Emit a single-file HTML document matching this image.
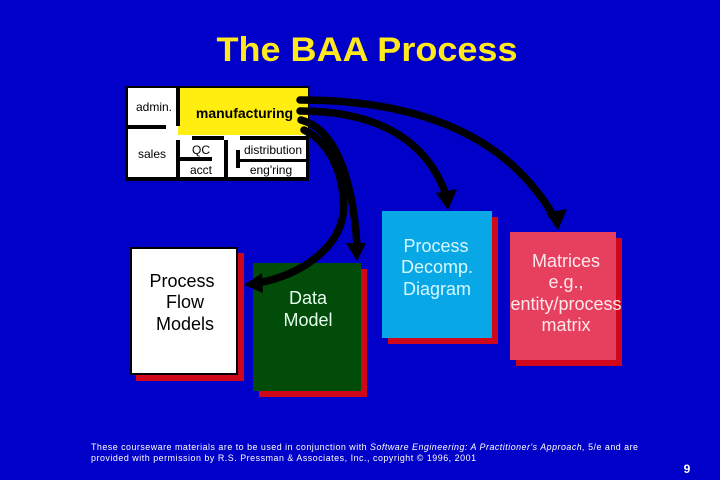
<!DOCTYPE html>
<html><head><meta charset="utf-8"><style>
html,body{margin:0;padding:0;background:#0000c8}
svg{display:block}
text{font-family:"Liberation Sans",sans-serif}
</style></head><body>
<svg width="720" height="480" viewBox="0 0 720 480" xmlns="http://www.w3.org/2000/svg">
<rect width="720" height="480" fill="#0000c8"/>
<text x="367" y="61" text-anchor="middle" font-size="34" font-weight="bold" fill="#ffe81e" textLength="301" lengthAdjust="spacingAndGlyphs">The BAA Process</text>

<!-- plan box -->
<rect x="125" y="86" width="184" height="95" fill="#000"/>
<rect x="128" y="88" width="178" height="89" fill="#fff"/>
<rect x="178" y="88" width="130" height="47" fill="#ffee10"/>
<g fill="#000">
<rect x="176" y="88" width="4" height="38"/>
<rect x="128" y="125" width="38" height="4"/>
<rect x="176" y="140" width="4" height="37"/>
<rect x="192" y="136" width="32" height="4"/>
<rect x="240" y="136" width="66" height="4"/>
<rect x="224" y="140" width="4" height="37"/>
<rect x="180" y="157" width="32" height="4"/>
<rect x="236" y="150" width="4" height="18"/>
<rect x="240" y="159" width="67" height="3"/>
</g>
<g font-size="12" fill="#000" text-anchor="middle">
<text x="154" y="111">admin.</text>
<text x="152" y="158">sales</text>
<text x="201" y="154">QC</text>
<text x="273" y="154">distribution</text>
<text x="201" y="174">acct</text>
<text x="271" y="174">eng'ring</text>
</g>
<text x="244.500" y="118" text-anchor="middle" font-size="14" font-weight="bold" fill="#000">manufacturing</text>

<!-- boxes -->
<rect x="136" y="253" width="108" height="128" fill="#d0061a"/>
<rect x="131" y="248" width="106" height="126" fill="#fff" stroke="#000" stroke-width="2"/>
<rect x="259" y="269" width="108" height="128" fill="#d0061a"/>
<rect x="253" y="263" width="108" height="128" fill="#004c08"/>
<rect x="388" y="217" width="110" height="127" fill="#d0061a"/>
<rect x="382" y="211" width="110" height="127" fill="#08a8e6"/>
<rect x="516" y="238" width="106" height="128" fill="#d0061a"/>
<rect x="510" y="232" width="106" height="128" fill="#e6405e"/>

<g font-size="18" text-anchor="middle">
<g fill="#000">
<text x="182" y="287">Process</text>
<text x="185" y="308">Flow</text>
<text x="185" y="330">Models</text>
</g>
<g fill="#e8fff0">
<text x="308" y="304">Data</text>
<text x="308" y="326">Model</text>
</g>
<g fill="#d8f8ff">
<text x="436" y="252">Process</text>
<text x="437" y="273">Decomp.</text>
<text x="437" y="295">Diagram</text>
</g>
<g fill="#ffe8ec">
<text x="566" y="267">Matrices</text>
<text x="566" y="288">e.g.,</text>
<text x="566" y="310">entity/process</text>
<text x="566" y="331">matrix</text>
</g>
</g>

<!-- connectors -->
<g fill="none" stroke="#000" stroke-width="7.500" stroke-linecap="round">
<path d="M300 100 C400 100 500 125 553 215"/>
<path d="M300 111 C370 111 425 135 446 195"/>
<path d="M301 120 C332 128 352 170 357 245"/>
<path d="M304 130 C335 145 346 185 343 215 C337 250 300 275 258 283"/>
</g>
<g fill="#000">
<polygon points="546,213 567,209 558,230"/>
<polygon points="436,193 457,189 448,210"/>
<polygon points="346,243 366,243 357,261"/>
<polygon points="262,273 263,293 244,285"/>
</g>

<!-- footer -->
<g font-size="8.900" fill="#fff">
<text x="91" y="450" textLength="547" lengthAdjust="spacing">These courseware materials are to be used in conjunction with <tspan font-style="italic">Software Engineering: A Practitioner's Approach,</tspan> 5/e and are</text>
<text x="91" y="461" textLength="385" lengthAdjust="spacing">provided with permission by R.S. Pressman &amp; Associates, Inc., copyright © 1996, 2001</text>
</g>
<text x="687" y="473" text-anchor="middle" font-size="12" font-weight="bold" fill="#fff">9</text>
</svg>
</body></html>
